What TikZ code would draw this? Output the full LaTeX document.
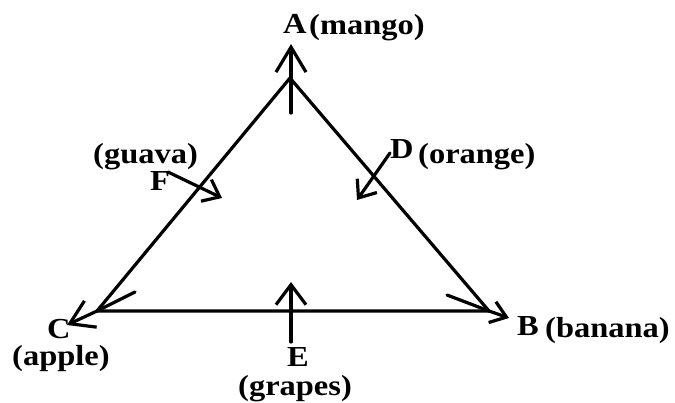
\documentclass[tikz,border=0pt]{standalone}
\usepackage{fontspec}
\setmainfont{Liberation Serif}[FakeStretch=1.12]
\usetikzlibrary{arrows.meta}

\begin{document}
\begin{tikzpicture}[
    x=1pt, y=-1pt,
    every node/.style={font=\fontsize{29}{35}\selectfont\bfseries, inner sep=0pt, anchor=base west},
    side/.style={line width=3.2pt, line cap=round, line join=round},
    pointer/.style 2 args={side, -{Straight Barb[length=#1pt, width=#2pt]}}
]
    \useasboundingbox (0,0) rectangle (675,402);

    % corners of the triangle
    \coordinate (A) at (290,78);
    \coordinate (Cc) at (97,311);
    \coordinate (Bc) at (489,311);
    \coordinate (Ct) at (67,325);
    \coordinate (Bt) at (509,318);
    \coordinate (Cb) at (135,292);
    \coordinate (Bb) at (447,295);

    \draw[side] (Cc) -- (A) -- (Bc) -- cycle;
    \draw[pointer={23}{29}] (Cc) -- (Ct);
    \draw[pointer={15}{22}] (Bc) -- (Bt);
    \draw[side] (Cc) -- (Cb);
    \draw[side] (Bc) -- (Bb);

    % the four single arrows
    \coordinate (Abot) at (291,113);
    \coordinate (Atip) at (291,44);
    \coordinate (Ebot) at (291,342);
    \coordinate (Etip) at (291,282);
    \coordinate (Ftail) at (168,172);
    \coordinate (Ftip) at (222,198);
    \coordinate (Dtail) at (390,153);
    \coordinate (Dtip) at (357,200);

    \draw[pointer={25}{30}] (Abot) -- (Atip);
    \draw[pointer={20}{30}] (Ebot) -- (Etip);
    \draw[pointer={15}{24}] (Ftail) -- (Ftip);
    \draw[pointer={15}{24}] (Dtail) -- (Dtip);

    % labels
    \node (lA) at (283,33) {A};
    \node (mango) at (309,34) {(mango)};
    \node (guava) at (93,163) {(guava)};
    \node (lF) at (150,190) {F};
    \node (lD) at (390,158) {D};
    \node (orange) at (418,163) {(orange)};
    \node (lC) at (47,338) {C};
    \node (apple) at (12,365) {(apple)};
    \node (lB) at (517,335) {B};
    \node (banana) at (545,337) {(banana)};
    \node (lE) at (287,366) {E};
    \node (grapes) at (238,395) {(grapes)};
\end{tikzpicture}
\end{document}
